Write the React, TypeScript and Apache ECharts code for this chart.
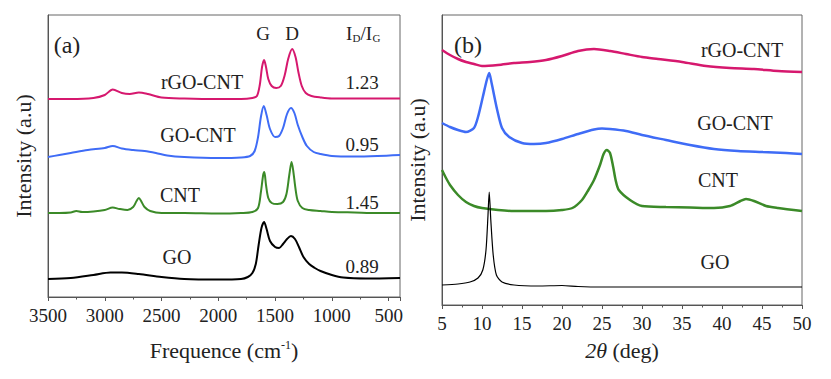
import { useEffect, useRef } from "react";
import * as echarts from "echarts";

// ---------- Panel (a): Raman spectra (Raman shift cm-1, intensity a.u.) ----------
const ramanRGOCNT = [[3500,198],[3300,198],[3100,199],[3000,202],[2930,207.5],[2850,204],[2780,203],[2700,204.5],[2620,203],[2500,199.5],[2300,198.5],[2000,198],[1800,198],[1700,199],[1660,201],[1635,212],[1615,230],[1597,237],[1580,230],[1560,218],[1530,211],[1490,209],[1450,211],[1415,222],[1385,238],[1350,248],[1320,240],[1295,225],[1265,211],[1230,204],[1180,201],[1100,199.5],[1000,198.5],[800,198.5],[600,198.5],[400,198.5]];
const ramanGOCNT = [[3500,140],[3400,142],[3300,144],[3150,147],[3000,149],[2930,151],[2850,148.5],[2750,147],[2650,146],[2550,144],[2450,141.5],[2300,140],[2000,139],[1800,139.5],[1720,141],[1680,146],[1650,160],[1625,180],[1600,191],[1575,182],[1545,168],[1500,160],[1465,161],[1430,169],[1395,183],[1360,189],[1330,184],[1300,172],[1260,160],[1220,151],[1160,145],[1100,143],[1000,141],[800,140.5],[600,141],[400,142]];
const ramanCNT = [[3500,84],[3400,84],[3300,84.5],[3250,86],[3200,85],[3100,85.5],[3000,87],[2930,89.5],[2870,88],[2800,87],[2750,90],[2720,96],[2700,99],[2680,96],[2650,90],[2600,86],[2500,84],[2300,84],[2000,83.5],[1800,84],[1700,85],[1650,89],[1625,105],[1605,122],[1595,125],[1580,112],[1560,99],[1530,94],[1480,93],[1430,95],[1400,103],[1375,122],[1355,135],[1340,126],[1320,108],[1300,96],[1260,89],[1200,87],[1100,86],[1000,85],[800,84.5],[600,84],[400,84]];
const ramanGO = [[3500,18],[3300,19],[3100,22],[2950,24.5],[2850,24.5],[2700,23],[2500,20],[2300,18],[2000,17.5],[1800,18],[1740,20],[1700,24],[1670,33],[1645,52],[1620,69],[1597,75],[1575,68],[1545,56],[1500,50],[1465,49],[1430,53],[1395,58],[1360,61],[1325,58],[1290,50],[1250,40],[1200,33],[1150,29],[1100,26],[1000,22],[900,19.5],[700,18.5],[400,19]];

// ---------- Panel (b): XRD patterns (2theta deg, intensity a.u.) ----------
const xrdRGOCNT = [[5,255],[6,250],[7,246],[8,243],[9,241],[10,239],[12,240],[14,242],[16,243],[18,245],[20,249],[22,254],[24,256],[26,254],[28,251],[30,248],[32,246],[35,243],[38,239],[41,237],[44,236],[47,234],[50,233]];
const xrdGOCNT = [[5,182],[6,178],[7,175],[8,173],[9,177],[9.5,188],[10.1,208],[10.6,225],[10.9,232],[11.2,222],[11.9,195],[12.5,177],[13.4,168],[15,162],[16.5,161],[18,162],[20,166],[22,171],[24,175.5],[25,176.5],[26,176],[28,174],[30,170],[33,165],[36,160],[39,156],[42,154],[45,153],[48,152],[50,151]];
const xrdCNT = [[5,135],[5.5,127],[6,120],[7,110],[8,103],[9,99],[10,97],[12,95],[14,94],[16,94],[18,94],[20,95],[21.3,97],[22.5,105],[23.3,115],[24,125],[24.75,140],[25.2,151],[25.6,155],[26,152],[26.4,138],[26.7,125],[27.1,115],[28.5,105],[30,99],[33,98],[36,97.5],[39,97],[41,99],[42.3,104],[43,106],[44,104],[45.5,99],[47,97],[50,94]];
const xrdGO = [[5,20],[7,21],[8.5,23],[9.5,27],[10.1,35],[10.5,55],[10.75,90],[10.9,113],[11.1,85],[11.4,50],[11.8,30],[12.5,23],[14,20],[17,19],[20,19.5],[22,18.5],[25,18],[35,18],[50,18]];

const sampleNames = ["rGO-CNT", "GO-CNT", "CNT", "GO"];
const idigRatios = ["1.23", "0.95", "1.45", "0.89"];
const peakNames = ["G", "D"];
const panelTags = ["(a)", "(b)"];

const FONT = '"Liberation Serif", "Times New Roman", serif';
const COLORS = ["#d6186e", "#3f6cf6", "#3b8a28", "#000000"];
const TXT = "#222222";

export default function App() {
  const ref = useRef<HTMLDivElement>(null);

  useEffect(() => {
    if (!ref.current) return;
    const chart = echarts.init(ref.current, null, { renderer: "svg" });

    const axisCommonX = {
      type: "value",
      splitLine: { show: false },
      axisLine: { show: true, lineStyle: { color: "#555", width: 1 } },
      axisTick: { show: true, inside: false, length: 4, lineStyle: { color: "#555" } },
      minorTick: { show: true, splitNumber: 2, length: 2.5, lineStyle: { color: "#555" } },
      axisLabel: { fontFamily: FONT, fontSize: 19, color: TXT, margin: 9, formatter: (v: number) => String(v) },
      nameLocation: "middle",
    };
    const axisCommonY = {
      type: "value",
      splitLine: { show: false },
      axisLine: { show: true, lineStyle: { color: "#555", width: 1 } },
      axisTick: { show: false },
      axisLabel: { show: false },
      name: "Intensity (a.u)",
      nameLocation: "middle",
      nameTextStyle: { fontFamily: FONT, fontSize: 22, color: TXT },
    };

    const txt = (text: string, x: number, y: number, size: number, align = "center") => ({
      type: "text",
      x,
      y,
      style: {
        text,
        fontFamily: FONT,
        fontSize: size,
        fill: TXT,
        align,
        verticalAlign: "middle",
      },
    });

    const ramanSeries = [ramanRGOCNT, ramanGOCNT, ramanCNT, ramanGO];
    const xrdSeries = [xrdRGOCNT, xrdGOCNT, xrdCNT, xrdGO];

    const series: any[] = [];
    ramanSeries.forEach((d, i) =>
      series.push({
        type: "line",
        name: "Raman " + sampleNames[i],
        xAxisIndex: 0,
        yAxisIndex: 0,
        data: d,
        showSymbol: false,
        smooth: 0.3,
        lineStyle: { color: COLORS[i], width: 2 },
      })
    );
    xrdSeries.forEach((d, i) =>
      series.push({
        type: "line",
        name: "XRD " + sampleNames[i],
        xAxisIndex: 1,
        yAxisIndex: 1,
        data: d,
        showSymbol: false,
        smooth: 0.25,
        lineStyle: { color: COLORS[i], width: i === 3 ? 1.2 : 2.5 },
      })
    );

    chart.setOption({
      animation: false,
      backgroundColor: "#ffffff",
      grid: [
        { left: 48, right: 431, top: 15, bottom: 82, show: true, borderColor: "#666", borderWidth: 1, backgroundColor: "transparent" },
        { left: 442, right: 29, top: 15, bottom: 74, show: true, borderColor: "#666", borderWidth: 1, backgroundColor: "transparent" },
      ],
      xAxis: [
        {
          ...axisCommonX,
          gridIndex: 0,
          min: 400,
          max: 3500,
          inverse: true,
          axisLabel: { ...axisCommonX.axisLabel, showMinLabel: false },
          name: "Frequence (cm{sup|-1})",
          nameGap: 42,
          nameTextStyle: {
            fontFamily: FONT,
            fontSize: 22,
            color: TXT,
            rich: { sup: { fontFamily: FONT, fontSize: 12, color: TXT, verticalAlign: "top" } },
          },
        },
        {
          ...axisCommonX,
          gridIndex: 1,
          min: 5,
          max: 50,
          interval: 5,
          name: "{it|2θ} (deg)",
          nameGap: 34,
          nameTextStyle: {
            fontFamily: FONT,
            fontSize: 22,
            color: TXT,
            rich: { it: { fontFamily: FONT, fontSize: 22, fontStyle: "italic", color: TXT } },
          },
        },
      ],
      yAxis: [
        { ...axisCommonY, gridIndex: 0, min: 0, max: 282, nameGap: 14 },
        { ...axisCommonY, gridIndex: 1, min: 0, max: 290, nameGap: 14 },
      ],
      series,
      graphic: [
        txt(panelTags[0], 67, 45, 24),
        txt(panelTags[1], 468, 45, 24),
        txt(peakNames[0], 263, 33, 19),
        txt(peakNames[1], 292, 33, 19),
        // I_D / I_G with subscripts
        txt("I", 346, 33, 19, "left"),
        txt("D", 352.5, 38, 11, "left"),
        txt("/I", 360.5, 33, 19, "left"),
        txt("G", 372.5, 38, 11, "left"),
        txt(sampleNames[0], 202, 82, 20),
        txt(sampleNames[1], 198, 135, 20),
        txt(sampleNames[2], 180, 195, 20),
        txt(sampleNames[3], 177, 257, 20),
        txt(idigRatios[0], 362, 82, 19),
        txt(idigRatios[1], 362, 144, 19),
        txt(idigRatios[2], 362, 202, 19),
        txt(idigRatios[3], 362, 266, 19),
        txt(sampleNames[0], 742, 50, 20),
        txt(sampleNames[1], 735, 123, 20),
        txt(sampleNames[2], 718, 180, 20),
        txt(sampleNames[3], 715, 262, 20),
      ],
    });

    return () => chart.dispose();
  }, []);

  return (
    <div
      ref={ref}
      style={{ position: "fixed", left: 0, top: 0, width: 831, height: 379, background: "#fff" }}
    />
  );
}
